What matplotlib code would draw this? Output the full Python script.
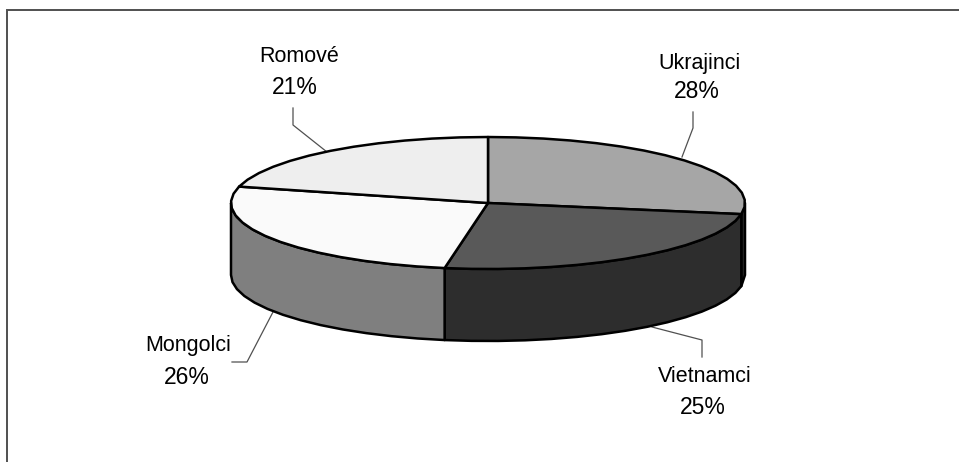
import numpy as np
import matplotlib
matplotlib.use("Agg")
import matplotlib.pyplot as plt

# Data
labels = ["Ukrajinci", "Vietnamci", "Mongolci", "Romové"]
shares = [27.7, 25.0, 26.3, 21.0]
top_colors = ["#A6A6A6", "#595959", "#FAFAFA", "#EEEEEE"]
side_colors = ["#2D2D2D", "#2D2D2D", "#7F7F7F", "#777777"]
name_pos = [(699, 63), (705, 377), (188, 345), (299, 57)]
pct_pos = [(697, 92), (703, 407), (187, 377), (295, 87)]
leaders = [
    [(682, 157), (693, 128), (693, 112)],
    [(652, 327), (702, 340), (702, 357)],
    [(273, 312), (247, 362), (232, 362)],
    [(327, 152), (293, 125), (293, 108)],
]

# Pie geometry in image pixels
cx, cy = 488, 203
a, b = 257, 66
depth = 72


def rim(t0, t1, dy=0):
    # coarse steps, the original rim is a bit jagged
    n = max(2, int((t1 - t0) / 6) + 1)
    t = np.radians(np.linspace(t0, t1, n))
    return np.column_stack([cx + a * np.sin(t), cy - b * np.cos(t) + dy])


fig = plt.figure(figsize=(9.59, 4.62), dpi=100)
ax = fig.add_axes([0, 0, 1, 1])
ax.set_xlim(0, 959)
ax.set_ylim(462, 0)
ax.axis("off")

# Frame, top and left only
ax.plot([7, 7, 959], [462, 10, 10], color="#505050", lw=1.4, solid_joinstyle="miter")

edges = np.cumsum([0] + shares) * 3.6

# Side walls, front half only
for i in range(len(shares)):
    t0 = max(edges[i], 90)
    t1 = min(edges[i + 1], 270)
    if t1 <= t0:
        continue
    upper = rim(t0, t1)
    lower = rim(t0, t1, depth)
    ax.fill(*np.vstack([upper, lower[::-1]]).T, facecolor=side_colors[i],
            edgecolor="black", lw=1.8, joinstyle="round", zorder=2)

# Top faces
for i in range(len(shares)):
    pts = np.vstack([[cx, cy], rim(edges[i], edges[i + 1])])
    ax.fill(*pts.T, facecolor=top_colors[i], edgecolor="black", lw=1.8,
            joinstyle="round", zorder=3)

# Labels and leader lines
for i, name in enumerate(labels):
    ax.text(*name_pos[i], name, ha="center", va="center", fontsize=15.5,
            family="Liberation Sans", color="black")
    ax.text(*pct_pos[i], f"{shares[i]:.0f}%", ha="center", va="center", fontsize=16.5,
            family="Liberation Sans", color="black")
    xs, ys = zip(*leaders[i])
    ax.plot(xs, ys, color="#505050", lw=0.9, zorder=1)

fig.savefig("out.png", dpi=100)
